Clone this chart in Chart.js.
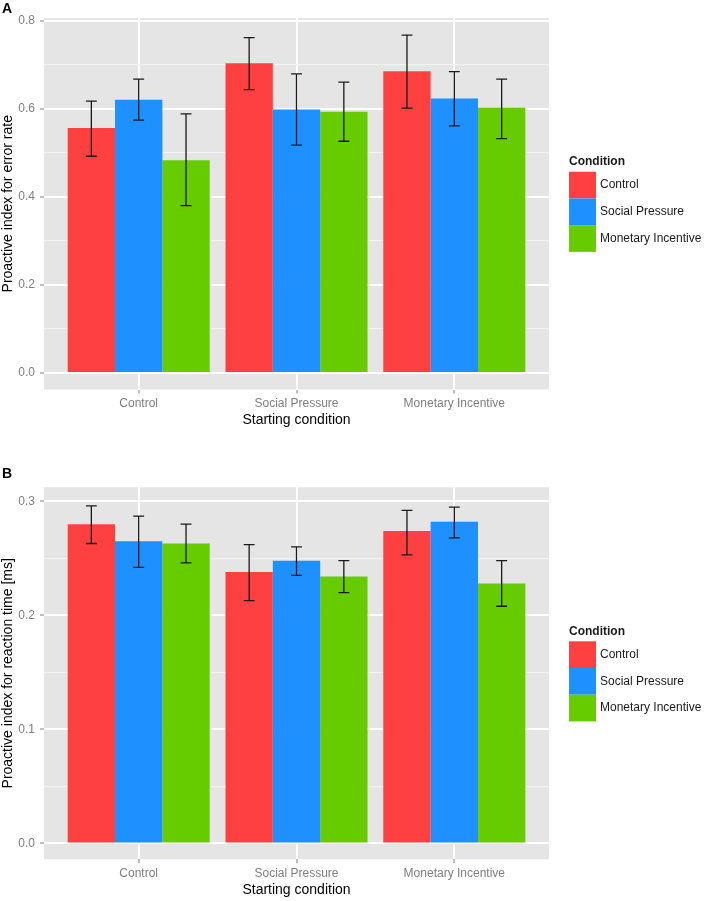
<!DOCTYPE html>
<html>
<head>
<meta charset="utf-8">
<title>Proactive index by starting condition</title>
<script src="https://cdn.jsdelivr.net/npm/chart.js@4.4.1/dist/chart.umd.min.js"></script>
<style>
  html, body { margin: 0; padding: 0; background: #fff; }
  #wrap { position: relative; width: 708px; height: 901px; }
  canvas { position: absolute; left: 0; }
  #chartA { top: 0; }
  #chartB { top: 460px; }
</style>
</head>
<body>
<div id="wrap">
  <canvas id="chartA" width="708" height="440"></canvas>
  <canvas id="chartB" width="708" height="441"></canvas>
</div>
<script>
const startingConditions = ['Control', 'Social Pressure', 'Monetary Incentive'];
const conditionNames = ['Control', 'Social Pressure', 'Monetary Incentive'];
const conditionColors = ['#FF4040', '#1E90FF', '#66CC00'];

// panel A - proactive index for error rate, means and error bar [low, high]
const rateControl = [0.556, 0.703, 0.685];
const rateSocial = [0.620, 0.598, 0.623];
const rateMonetary = [0.483, 0.593, 0.602];
const rateControlErr = [[0.492, 0.617], [0.643, 0.761], [0.601, 0.767]];
const rateSocialErr = [[0.574, 0.667], [0.517, 0.679], [0.561, 0.684]];
const rateMonetaryErr = [[0.380, 0.588], [0.526, 0.660], [0.532, 0.667]];
const rateMajorTicks = [0, 0.2, 0.4, 0.6, 0.8];
const rateMinorTicks = [0.1, 0.3, 0.5, 0.7];

// panel B - proactive index for reaction time
const rtControl = [0.280, 0.238, 0.274];
const rtSocial = [0.265, 0.248, 0.282];
const rtMonetary = [0.263, 0.234, 0.228];
const rtControlErr = [[0.263, 0.296], [0.213, 0.262], [0.253, 0.292]];
const rtSocialErr = [[0.242, 0.287], [0.235, 0.260], [0.268, 0.295]];
const rtMonetaryErr = [[0.246, 0.280], [0.220, 0.248], [0.208, 0.248]];
const rtMajorTicks = [0, 0.1, 0.2, 0.3];
const rtMinorTicks = [0.05, 0.15, 0.25];

const FONT = '"Liberation Sans", Arial, sans-serif';
Chart.defaults.font.family = FONT;

// grey panel, error bars, legend and panel letter
const ggDecor = {
  id: 'ggDecor',
  beforeDraw(chart) {
    const { ctx, chartArea: a } = chart;
    ctx.save();
    ctx.fillStyle = '#E5E5E5';
    ctx.fillRect(a.left, a.top, a.right - a.left, a.bottom - a.top);
    ctx.restore();
  },
  afterDatasetsDraw(chart) {
    const ctx = chart.ctx;
    const yScale = chart.scales.y;
    ctx.save();
    ctx.strokeStyle = '#1A1A1A';
    ctx.lineWidth = 1.3;
    chart.data.datasets.forEach((ds, d) => {
      const meta = chart.getDatasetMeta(d);
      meta.data.forEach((bar, i) => {
        const [lo, hi] = ds.errorBars[i];
        const yLo = yScale.getPixelForValue(lo);
        const yHi = yScale.getPixelForValue(hi);
        const half = bar.width * 0.115;
        ctx.beginPath();
        ctx.moveTo(bar.x, yLo); ctx.lineTo(bar.x, yHi);
        ctx.moveTo(bar.x - half, yLo); ctx.lineTo(bar.x + half, yLo);
        ctx.moveTo(bar.x - half, yHi); ctx.lineTo(bar.x + half, yHi);
        ctx.stroke();
      });
    });
    ctx.restore();
  },
  afterDraw(chart, args, opts) {
    const { ctx, chartArea: a } = chart;
    const cy = (a.top + a.bottom) / 2;
    const keyX = a.right + 20;
    const keyW = 27, keyH = 26.7;
    ctx.save();
    ctx.textBaseline = 'middle';
    ctx.textAlign = 'left';
    ctx.fillStyle = '#1A1A1A';
    ctx.font = 'bold 12px ' + FONT;
    ctx.fillText('Condition', keyX, cy - 42);
    let y = cy - 32;
    chart.data.datasets.forEach(ds => {
      ctx.fillStyle = ds.backgroundColor;
      ctx.fillRect(keyX, y, keyW, keyH);
      ctx.fillStyle = '#1A1A1A';
      ctx.font = '12px ' + FONT;
      ctx.fillText(ds.label, keyX + 31, y + keyH / 2);
      y += keyH;
    });
    ctx.fillStyle = '#000';
    ctx.font = 'bold 14px ' + FONT;
    ctx.textBaseline = 'alphabetic';
    ctx.fillText(opts.letter, 2, opts.letterY);
    ctx.restore();
  }
};

function makeChart(id, p) {
  const series = [p.control, p.social, p.monetary];
  const errs = [p.controlErr, p.socialErr, p.monetaryErr];
  const yTicks = p.major.map(v => ({ value: v, major: true }))
    .concat(p.minor.map(v => ({ value: v, major: false })))
    .sort((a, b) => a.value - b.value);

  return new Chart(document.getElementById(id), {
    type: 'bar',
    data: {
      datasets: series.map((vals, d) => ({
        label: conditionNames[d],
        backgroundColor: conditionColors[d],
        borderWidth: 0,
        data: vals.map((v, i) => ({ x: i + 1, y: v })),
        errorBars: errs[d]
      }))
    },
    options: {
      responsive: false,
      animation: false,
      layout: { padding: { top: p.padTop, right: 159, bottom: p.padBottom, left: 0 } },
      datasets: { bar: { categoryPercentage: 0.9, barPercentage: 1.0 } },
      plugins: {
        legend: { display: false },
        tooltip: { enabled: false },
        ggDecor: { letter: p.letter, letterY: p.letterY }
      },
      scales: {
        x: {
          type: 'linear',
          min: 0.4,
          max: 3.6,
          offset: false,
          afterFit: s => { s.height = p.xHeight; },
          afterBuildTicks: s => { s.ticks = startingConditions.map((c, i) => ({ value: i + 1 })); },
          border: { display: false },
          grid: { offset: false, color: '#FFFFFF', lineWidth: 2, tickColor: '#7F7F7F', tickLength: 4, tickWidth: 1 },
          ticks: {
            padding: 3, color: '#7F7F7F', font: { size: 12 }, autoSkip: false, maxRotation: 0,
            callback: v => startingConditions[v - 1]
          },
          title: { display: true, text: 'Starting condition', color: '#000', font: { size: 14 }, padding: 0 }
        },
        y: {
          min: p.min,
          max: p.max,
          afterFit: s => { s.width = 44; },
          afterBuildTicks: s => { s.ticks = yTicks.map(t => ({ ...t })); },
          border: { display: false },
          grid: {
            color: c => (c.tick && c.tick.major) ? '#FFFFFF' : '#F2F2F2',
            lineWidth: c => (c.tick && c.tick.major) ? 2 : 1.3,
            tickColor: c => (c.tick && c.tick.major) ? '#7F7F7F' : 'rgba(0,0,0,0)',
            tickLength: 4,
            tickWidth: 1
          },
          ticks: {
            padding: 5, color: '#7F7F7F', font: { size: 12 }, autoSkip: false,
            callback: (v, i, t) => t[i].major ? v.toFixed(1) : ''
          },
          title: { display: true, text: p.yTitle, color: '#000', font: { size: 14 }, padding: 0 }
        }
      }
    },
    plugins: [ggDecor]
  });
}

makeChart('chartA', {
  control: rateControl, social: rateSocial, monetary: rateMonetary,
  controlErr: rateControlErr, socialErr: rateSocialErr, monetaryErr: rateMonetaryErr,
  major: rateMajorTicks, minor: rateMinorTicks,
  min: -0.0374, max: 0.8057,
  padTop: 18, padBottom: 11, xHeight: 39.5,
  yTitle: 'Proactive index for error rate',
  letter: 'A', letterY: 13
});

makeChart('chartB', {
  control: rtControl, social: rtSocial, monetary: rtMonetary,
  controlErr: rtControlErr, socialErr: rtSocialErr, monetaryErr: rtMonetaryErr,
  major: rtMajorTicks, minor: rtMinorTicks,
  min: -0.0139, max: 0.3123,
  padTop: 27.3, padBottom: 2, xHeight: 39.7,
  yTitle: 'Proactive index for reaction time [ms]',
  letter: 'B', letterY: 18
});
</script>
</body>
</html>
